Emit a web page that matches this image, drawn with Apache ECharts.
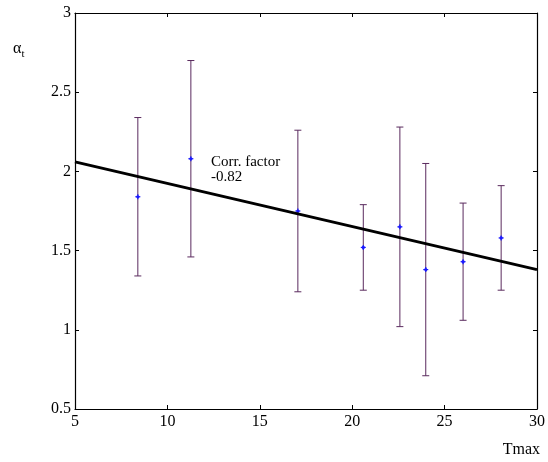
<!DOCTYPE html>
<html><head><meta charset="utf-8">
<script src="https://cdn.jsdelivr.net/npm/echarts@6/dist/echarts.min.js"></script>
<style>html,body{margin:0;padding:0;background:#fff}#c{width:548px;height:462px}</style>
</head><body><div id="c"></div>
<script>
var tmax = [8.4, 11.27, 17.06, 20.6, 22.58, 23.98, 26.0, 28.06];
var alphaT = [1.84, 2.08, 1.75, 1.52, 1.65, 1.38, 1.43, 1.58];
var errLow = [1.34, 1.46, 1.24, 1.25, 1.02, 0.71, 1.06, 1.25];
var errHigh = [2.34, 2.70, 2.26, 1.79, 2.28, 2.05, 1.80, 1.91];
var fitX = [5, 30];
var fitY = [2.06, 1.38];
var xTicks = [5, 10, 15, 20, 25, 30];
var yTicks = [0.5, 1, 1.5, 2, 2.5, 3];

var FONT = '"Liberation Serif", "DejaVu Serif", serif';
var chart = echarts.init(document.getElementById('c'), null, {renderer: 'canvas'});

var errData = tmax.map(function (x, i) { return [x, errLow[i], errHigh[i], alphaT[i]]; });
var axisCommon = {
  axisLine: {show: true, lineStyle: {color: '#000', width: 1.2}},
  axisTick: {show: true, inside: true, length: 4, lineStyle: {color: '#000'}},
  splitLine: {show: false}
};
var option = {
  animation: false,
  backgroundColor: '#fff',
  grid: {left: 75, right: 8, top: 13, bottom: 53, containLabel: false},
  xAxis: [
    Object.assign({type: 'value', min: 5, max: 30, interval: 5, position: 'bottom',
      axisLabel: {color: '#000', fontFamily: FONT, fontSize: 16, margin: 5}}, axisCommon),
    Object.assign({type: 'value', min: 5, max: 30, interval: 5, position: 'top',
      axisLabel: {show: false}}, axisCommon)
  ],
  yAxis: [
    Object.assign({type: 'value', min: 0.5, max: 3, interval: 0.5, position: 'left',
      axisLabel: {color: '#000', fontFamily: FONT, fontSize: 16, margin: 4}}, axisCommon),
    Object.assign({type: 'value', min: 0.5, max: 3, interval: 0.5, position: 'right',
      axisLabel: {show: false}}, axisCommon)
  ],
  series: [
    {
      type: 'custom',
      data: errData,
      z: 3,
      renderItem: function (params, api) {
        var x = api.value(0);
        var lo = api.coord([x, api.value(1)]);
        var hi = api.coord([x, api.value(2)]);
        var mid = api.coord([x, api.value(3)]);
        var cw = 3.5, pw = 2.5;
        var st = {stroke: '#5a2a5e', lineWidth: 1};
        var bs = {stroke: '#1a1aff', lineWidth: 1.2};
        return {type: 'group', children: [
          {type: 'line', shape: {x1: lo[0], y1: lo[1], x2: hi[0], y2: hi[1]}, style: st},
          {type: 'line', shape: {x1: lo[0] - cw, y1: lo[1], x2: lo[0] + cw, y2: lo[1]}, style: st},
          {type: 'line', shape: {x1: hi[0] - cw, y1: hi[1], x2: hi[0] + cw, y2: hi[1]}, style: st},
          {type: 'line', shape: {x1: mid[0] - pw, y1: mid[1], x2: mid[0] + pw, y2: mid[1]}, style: bs},
          {type: 'line', shape: {x1: mid[0], y1: mid[1] - pw, x2: mid[0], y2: mid[1] + pw}, style: bs},
          {type: 'circle', shape: {cx: mid[0], cy: mid[1], r: 1.6}, style: {fill: '#1a1aff'}}
        ]};
      }
    },
    {
      type: 'line',
      data: fitX.map(function (x, i) { return [x, fitY[i]]; }),
      symbol: 'none',
      lineStyle: {color: '#000', width: 3},
      z: 5
    }
  ],
  graphic: [
    {type: 'text', left: 211, top: 155, z: 10,
      style: {text: 'Corr. factor\n-0.82', font: '15px ' + FONT, fill: '#000', lineHeight: 15}},
    {type: 'text', left: 13, top: 41, z: 10,
      style: {text: '{a|α}{s|t}', fill: '#000',
        rich: {a: {fontFamily: FONT, fontSize: 16, verticalAlign: 'bottom'},
               s: {fontFamily: FONT, fontSize: 11, verticalAlign: 'bottom', padding: [0, 0, -3, 0]}}}},
    {type: 'text', right: 8, top: 442, z: 10,
      style: {text: 'Tmax', font: '16px ' + FONT, fill: '#000'}}
  ]
};
chart.setOption(option);
</script>
</body></html>
